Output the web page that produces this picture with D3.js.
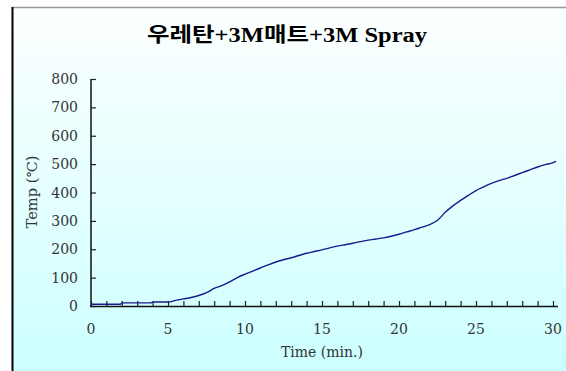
<!DOCTYPE html>
<html><head><meta charset="utf-8">
<script src="https://cdn.jsdelivr.net/npm/d3@7"></script>
<style>html,body{margin:0;padding:0;background:#fff;}svg{display:block;}</style>
</head><body>
<script>
const title = "우레탄+3M매트+3M Spray";
const xLabel = "Time (min.)";
const yLabel = "Temp (℃)";
const xTicks = [0,5,10,15,20,25,30];
const yTicks = [0,100,200,300,400,500,600,700,800];
const times = [0,1,1.9,2,3,3.9,4,5,5.5,6,6.5,7,7.5,8,8.5,9,9.5,10,10.5,11,11.5,12,12.5,13,13.5,14,14.5,15,15.5,16,16.5,17,17.5,18,18.5,19,19.5,20,20.5,21,21.5,22,22.5,23,23.5,24,24.5,25,25.5,26,26.5,27,27.5,28,28.5,29,29.5,30,30.2];
const temps = [6,6,6,11,11,11,14,14,20,25,30,37,47,62,72,85,100,112,123,134,145,155,163,170,178,186,192,198,205,211,216,221,227,232,236,240,246,253,261,269,278,287,302,330,353,372,390,407,420,432,442,450,460,470,480,490,498,505,510];

const W = 566, H = 371;
const svg = d3.select("body").append("svg").attr("width", W).attr("height", H);
const defs = svg.append("defs");
const g = defs.append("linearGradient").attr("id","bg").attr("x1",0).attr("y1",0).attr("x2",0).attr("y2",1);
g.append("stop").attr("offset","0%").attr("stop-color","#fdffff");
g.append("stop").attr("offset","100%").attr("stop-color","#ccffff");

svg.append("rect").attr("x",12).attr("y",8).attr("width",W-12).attr("height",H-8).attr("fill","url(#bg)");
svg.append("line").attr("x1",12).attr("x2",W).attr("y1",7.5).attr("y2",7.5).attr("stroke","#999").attr("stroke-width",1.5);
svg.append("line").attr("x1",12.5).attr("x2",12.5).attr("y1",7).attr("y2",H).attr("stroke","#000").attr("stroke-width",2);

const x = d3.scaleLinear().domain([0,30]).range([91,553]);
const y = d3.scaleLinear().domain([0,800]).range([306,79]);

const font = "'DejaVu Serif','Liberation Serif',serif";

svg.append("text").attr("x",287).attr("y",42).attr("text-anchor","middle")
  .attr("font-family","'Liberation Serif','Noto Sans CJK KR',serif")
  .attr("font-size",20).attr("font-weight","bold").attr("fill","#000")
  .attr("textLength",280).attr("lengthAdjust","spacingAndGlyphs").text(title);

// y axis
const ya = svg.append("g").attr("transform","translate(91,0)")
  .call(d3.axisRight(y).tickValues(yTicks).tickSize(5).tickFormat(""));
ya.select(".domain").remove();
ya.selectAll(".tick line").attr("stroke","#222").attr("stroke-width",1.2);
svg.append("line").attr("x1",91).attr("x2",91).attr("y1",79).attr("y2",307).attr("stroke","#111").attr("stroke-width",1.5);
svg.append("g").selectAll("text").data(yTicks).join("text")
  .attr("x",78).attr("y",d=>y(d)+5).attr("text-anchor","end")
  .attr("font-family",font).attr("font-size",14).attr("fill","#333").text(d=>d);

// x axis
const xa = svg.append("g").attr("transform","translate(0,306)")
  .call(d3.axisTop(x).tickValues(d3.range(0,31)).tickSize(5).tickFormat(""));
xa.select(".domain").remove();
xa.selectAll(".tick line").attr("stroke","#222").attr("stroke-width",1.2);
svg.append("line").attr("x1",90).attr("x2",558).attr("y1",306.5).attr("y2",306.5).attr("stroke","#111").attr("stroke-width",1.5);
svg.append("g").selectAll("text").data(xTicks).join("text")
  .attr("x",d=>x(d)).attr("y",334).attr("text-anchor","middle")
  .attr("font-family",font).attr("font-size",14).attr("fill","#333").text(d=>d);

svg.append("text").attr("x",322).attr("y",357).attr("text-anchor","middle")
  .attr("font-family",font).attr("font-size",14).attr("fill","#333")
  .attr("textLength",82).attr("lengthAdjust","spacingAndGlyphs").text(xLabel);
svg.append("text").attr("transform","translate(37,192) rotate(-90)").attr("text-anchor","middle")
  .attr("font-family",font).attr("font-size",14).attr("fill","#333")
  .attr("textLength",73).attr("lengthAdjust","spacingAndGlyphs").text(yLabel);

const line = d3.line().x((d,i)=>x(times[i])).y(d=>y(d)).curve(d3.curveMonotoneX);
svg.append("path").datum(temps).attr("d",line).attr("fill","none").attr("stroke","#1a1a8c").attr("stroke-width",1.4);
</script>
</body></html>
